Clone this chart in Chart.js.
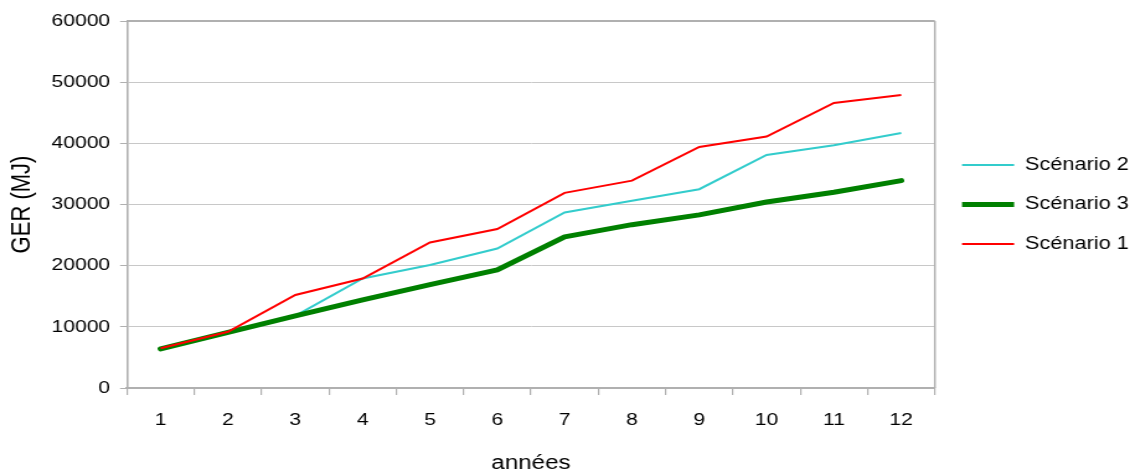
<!DOCTYPE html>
<html>
<head>
<meta charset="utf-8">
<script src="https://cdn.jsdelivr.net/npm/chart.js@4/dist/chart.umd.min.js"></script>
<style>
  html, body { margin: 0; padding: 0; background: #fff; overflow: hidden; width: 1135px; height: 475px; }
  #wrap { width: 927px; height: 475px; transform: scaleX(1.2404); transform-origin: 0 0; }
  canvas { display: block; }
</style>
</head>
<body>
<div id="wrap"><canvas id="c" width="927" height="475"></canvas></div>
<script>
const categories = ['1','2','3','4','5','6','7','8','9','10','11','12'];
const seriesNames = ['Scénario 2', 'Scénario 3', 'Scénario 1'];
const scenario2 = [6500, 9200, 11800, 17900, 20100, 22800, 28700, 30600, 32500, 38100, 39700, 41700];
const scenario3 = [6400, 9100, 11800, 14400, 16900, 19300, 24700, 26700, 28300, 30400, 32000, 33900];
const scenario1 = [6500, 9200, 15200, 17900, 23800, 26000, 31900, 33900, 39400, 41100, 46600, 47900];
const yTicks = [0, 10000, 20000, 30000, 40000, 50000, 60000];
const yTitle = 'GER (MJ)';
const xTitle = 'années';

const AXIS = '#B0B0B0';
const GRID = '#C8C8C8';
const FAMILY = "'Liberation Sans', Arial, sans-serif";
const FONT = { family: FAMILY, size: 17 };

const framePlugin = {
  id: 'frame',
  beforeDatasetsDraw(chart) {
    const { ctx, chartArea: a } = chart;
    ctx.save();
    ctx.strokeStyle = AXIS;
    ctx.lineWidth = 2;
    ctx.beginPath();
    ctx.moveTo(a.left, a.top);
    ctx.lineTo(a.right, a.top);
    ctx.stroke();
    ctx.lineWidth = 1.5;
    ctx.beginPath();
    ctx.moveTo(a.right, a.top);
    ctx.lineTo(a.right, a.bottom);
    ctx.stroke();
    ctx.restore();
  }
};

new Chart(document.getElementById('c'), {
  type: 'line',
  data: {
    labels: categories,
    datasets: [
      { label: seriesNames[0], data: scenario2, borderColor: '#33CCCC', backgroundColor: '#33CCCC', borderWidth: 2, order: 3 },
      { label: seriesNames[1], data: scenario3, borderColor: '#008000', backgroundColor: '#008000', borderWidth: 5, borderCapStyle: 'round', borderJoinStyle: 'round', order: 2 },
      { label: seriesNames[2], data: scenario1, borderColor: '#FF0000', backgroundColor: '#FF0000', borderWidth: 2, order: 1 }
    ]
  },
  options: {
    responsive: false,
    animation: false,
    devicePixelRatio: 1,
    layout: { padding: { top: 21, right: 7, bottom: 0, left: 0 } },
    elements: { point: { radius: 0, hoverRadius: 0 }, line: { tension: 0, fill: false } },
    plugins: {
      tooltip: { enabled: false },
      legend: {
        position: 'right',
        align: 'center',
        fullSize: false,
        labels: {
          usePointStyle: true,
          pointStyle: 'line',
          pointStyleWidth: 42,
          boxHeight: 17.5,
          padding: 21.9,
          color: '#000',
          font: { family: FAMILY, size: 17.5 },
          sort: (a, b) => a.datasetIndex - b.datasetIndex
        }
      }
    },
    scales: {
      x: {
        type: 'category',
        offset: true,
        afterFit(s) { s.height = 87; },
        grid: { offset: true, drawOnChartArea: false, drawTicks: true, tickLength: 7, color: AXIS, tickColor: AXIS, lineWidth: 1.2 },
        border: { color: AXIS, width: 2 },
        ticks: { color: '#000', font: FONT, padding: 15, maxRotation: 0, autoSkip: false },
        title: { display: true, text: xTitle, color: '#000', font: { family: FAMILY, size: 19.5 }, padding: { top: 0, bottom: 0 } }
      },
      y: {
        min: 0,
        max: 60000,
        afterFit(s) { s.width = 102.4; },
        afterBuildTicks(s) { s.ticks = yTicks.map(v => ({ value: v })); },
        grid: { color: GRID, tickColor: AXIS, drawTicks: true, tickLength: 5.6, lineWidth: 1 },
        border: { color: AXIS, width: 1.6 },
        ticks: { color: '#000', font: FONT, padding: 8, callback: v => String(v) },
        title: { display: true, text: yTitle, color: '#000', font: { family: FAMILY, size: 22 }, padding: { top: 4.9, bottom: 4.9 } }
      }
    }
  },
  plugins: [framePlugin]
});
</script>
</body>
</html>
